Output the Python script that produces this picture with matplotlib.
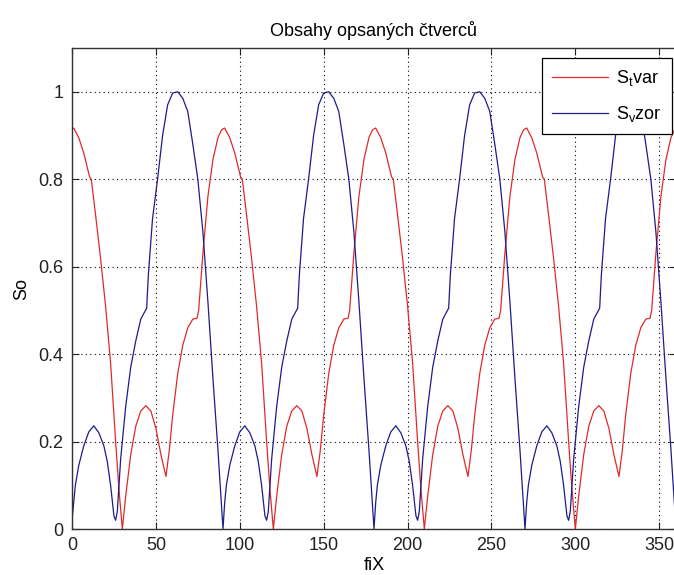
import matplotlib
matplotlib.use('Agg')
import matplotlib.pyplot as plt

plt.rcParams['font.family'] = ['Liberation Sans', 'DejaVu Sans']
plt.rcParams['mathtext.fontset'] = 'custom'
plt.rcParams['mathtext.rm'] = 'Liberation Sans'

# S_tvar (red), one row per 90 deg period
tvar_x = [0, 1, 4, 7, 10.5, 11.5, 14, 17, 20, 23, 26, 28, 30, 32, 35, 38, 41, 44,
          47, 50, 53, 56, 58, 60, 63, 66, 69, 72, 74.5, 75.5, 78, 81, 84, 87, 89,
          90, 91, 94, 97, 100.5, 101.5, 104, 107, 110, 113, 116, 118, 120, 122, 125, 128, 131, 134,
          137, 140, 143, 146, 148, 150, 153, 156, 159, 162, 164.5, 165.5, 168, 171, 174, 177, 179,
          180, 181, 184, 187, 190.5, 191.5, 194, 197, 200, 203, 206, 208, 210, 212, 215, 218, 221, 224,
          227, 230, 233, 236, 238, 240, 243, 246, 249, 252, 254.5, 255.5, 258, 261, 264, 267, 269,
          270, 271, 274, 277, 280.5, 281.5, 284, 287, 290, 293, 296, 298, 300, 302, 305, 308, 311, 314,
          317, 320, 323, 326, 328, 330, 333, 336, 339, 342, 344.5, 345.5, 348, 351, 354, 357, 359, 360]
tvar_y = [0.915, 0.917, 0.895, 0.86, 0.805, 0.80, 0.72, 0.62, 0.51, 0.38, 0.2, 0.09, 0.0, 0.075, 0.17, 0.235, 0.27, 0.282,
          0.27, 0.23, 0.17, 0.12, 0.18, 0.26, 0.355, 0.42, 0.46, 0.48, 0.482, 0.5, 0.63, 0.76, 0.845, 0.895, 0.912,
          0.915, 0.917, 0.895, 0.86, 0.805, 0.80, 0.72, 0.62, 0.51, 0.38, 0.2, 0.09, 0.0, 0.075, 0.17, 0.235, 0.27, 0.282,
          0.27, 0.23, 0.17, 0.12, 0.18, 0.26, 0.355, 0.42, 0.46, 0.48, 0.482, 0.5, 0.63, 0.76, 0.845, 0.895, 0.912,
          0.915, 0.917, 0.895, 0.86, 0.805, 0.80, 0.72, 0.62, 0.51, 0.38, 0.2, 0.09, 0.0, 0.075, 0.17, 0.235, 0.27, 0.282,
          0.27, 0.23, 0.17, 0.12, 0.18, 0.26, 0.355, 0.42, 0.46, 0.48, 0.482, 0.5, 0.63, 0.76, 0.845, 0.895, 0.912,
          0.915, 0.917, 0.895, 0.86, 0.805, 0.80, 0.72, 0.62, 0.51, 0.38, 0.2, 0.09, 0.0, 0.075, 0.17, 0.235, 0.27, 0.282,
          0.27, 0.23, 0.17, 0.12, 0.18, 0.26, 0.355, 0.42, 0.46, 0.48, 0.482, 0.5, 0.63, 0.76, 0.845, 0.895, 0.912, 0.915]

# S_vzor (blue)
vzor_x = [0, 1, 2, 4, 7, 10, 13, 16, 19, 21, 23, 25, 26, 27, 29, 32, 35, 38,
          41, 44.5, 45.5, 48, 51, 54, 57, 60, 63, 66, 69, 72, 75, 78, 81, 84, 87, 89,
          90, 91, 92, 94, 97, 100, 103, 106, 109, 111, 113, 115, 116, 117, 119, 122, 125, 128,
          131, 134.5, 135.5, 138, 141, 144, 147, 150, 153, 156, 159, 162, 165, 168, 171, 174, 177, 179,
          180, 181, 182, 184, 187, 190, 193, 196, 199, 201, 203, 205, 206, 207, 209, 212, 215, 218,
          221, 224.5, 225.5, 228, 231, 234, 237, 240, 243, 246, 249, 252, 255, 258, 261, 264, 267, 269,
          270, 271, 272, 274, 277, 280, 283, 286, 289, 291, 293, 295, 296, 297, 299, 302, 305, 308,
          311, 314.5, 315.5, 318, 321, 324, 327, 330, 333, 336, 339, 342, 345, 348, 351, 354, 357, 359, 360]
vzor_y = [0.02, 0.06, 0.1, 0.145, 0.19, 0.222, 0.236, 0.22, 0.19, 0.155, 0.1, 0.03, 0.02, 0.04, 0.16, 0.28, 0.37, 0.43,
          0.48, 0.505, 0.58, 0.71, 0.8, 0.9, 0.97, 0.997, 1.0, 0.985, 0.955, 0.88, 0.8, 0.68, 0.52, 0.345, 0.18, 0.06,
          0.0, 0.06, 0.1, 0.145, 0.19, 0.222, 0.236, 0.22, 0.19, 0.155, 0.1, 0.03, 0.02, 0.04, 0.16, 0.28, 0.37, 0.43,
          0.48, 0.505, 0.58, 0.71, 0.8, 0.9, 0.97, 0.997, 1.0, 0.985, 0.955, 0.88, 0.8, 0.68, 0.52, 0.345, 0.18, 0.06,
          0.0, 0.06, 0.1, 0.145, 0.19, 0.222, 0.236, 0.22, 0.19, 0.155, 0.1, 0.03, 0.02, 0.04, 0.16, 0.28, 0.37, 0.43,
          0.48, 0.505, 0.58, 0.71, 0.8, 0.9, 0.97, 0.997, 1.0, 0.985, 0.955, 0.88, 0.8, 0.68, 0.52, 0.345, 0.18, 0.06,
          0.0, 0.06, 0.1, 0.145, 0.19, 0.222, 0.236, 0.22, 0.19, 0.155, 0.1, 0.03, 0.02, 0.04, 0.16, 0.28, 0.37, 0.43,
          0.48, 0.505, 0.58, 0.71, 0.8, 0.9, 0.97, 0.997, 1.0, 0.985, 0.955, 0.88, 0.8, 0.68, 0.52, 0.345, 0.18, 0.06, 0.0]

xticks = [0, 50, 100, 150, 200, 250, 300, 350]
yticks = [0, 0.2, 0.4, 0.6, 0.8, 1]
ytick_labels = ['0', '0.2', '0.4', '0.6', '0.8', '1']

fig = plt.figure(figsize=(6.74, 5.75), dpi=100)
# right edge sits just past the picture, like the cropped original
ax = fig.add_axes([72 / 674, 46 / 575, 604 / 674, 481 / 575])

ax.plot(tvar_x, tvar_y, color='#e02a2a', lw=0.9, label=r'S$_\mathregular{t}$var')
ax.plot(vzor_x, vzor_y, color='#1c1c8c', lw=0.9, label=r'S$_\mathregular{v}$zor')

ax.set_xlim(0, 360)
ax.set_ylim(0, 1.1)
ax.set_xticks(xticks)
ax.set_yticks(yticks)
ax.set_yticklabels(ytick_labels)
ax.tick_params(direction='in', length=5, width=0.8, labelsize=13, pad=6,
               top=True, right=True, colors='#222222')
ax.grid(True, color='black', linestyle=(0, (1, 3)), linewidth=0.8)
for s in ax.spines.values():
    s.set_color('#333333')
    s.set_linewidth(1.0)

ax.set_title('Obsahy opsaných čtverců', fontsize=13, pad=9)
ax.set_xlabel('fiX', fontsize=13, labelpad=2)
ax.set_ylabel('So', fontsize=13, labelpad=6)

leg = ax.legend(loc='upper right', bbox_to_anchor=(0.9934, 0.979), borderaxespad=0,
                fontsize=13, fancybox=False, framealpha=1, edgecolor='black',
                handlelength=3.1, handletextpad=0.45, labelspacing=0.9, borderpad=0.55)
leg.get_frame().set_linewidth(0.9)

fig.savefig('out.png', dpi=100, facecolor='white')
